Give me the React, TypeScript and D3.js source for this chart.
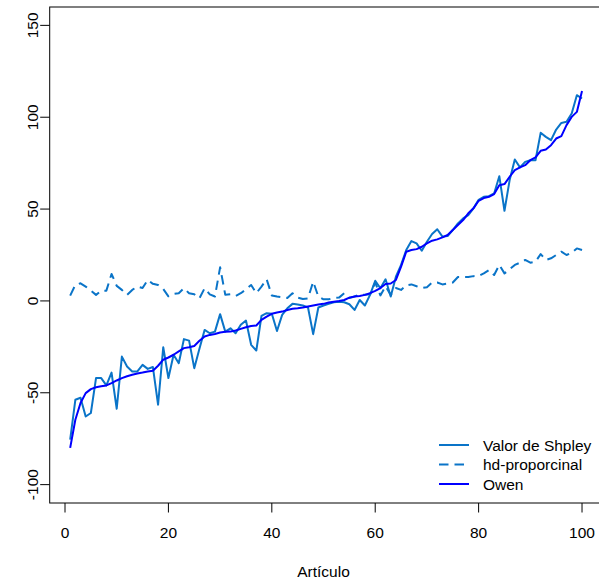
import { useMemo } from 'react';
import * as d3 from 'd3';

const W = 599;
const H = 582;

// values, article 1..100
const shapley = [
  -75.5, -53.8, -52.7, -62.9, -61, -42, -42, -46, -39, -58.7,
  -30.3, -35.7, -38.4, -38.4, -34.8, -37, -36, -56.5, -25.2, -42,
  -29.3, -33.9, -20.8, -21.6, -36.6, -26, -15.8, -17.6, -16.7, -7.2,
  -16.7, -14.9, -17.6, -13, -10.7, -23.9, -27, -8.2, -6.7, -7,
  -16.4, -7.6, -4, -1.6, -2, -2.5, -3.6, -18.1, -3.6, -2.5,
  -1.6, -0.7, -0.4, -0.7, -1.8, -4.9, 0.5, -2.5, 3.3, 11,
  6.9, 11.8, 2.4, 13.2, 19.6, 27.7, 32.6, 31.3, 27.3, 32.2,
  36.4, 39, 35, 35.3, 38.6, 42.2, 44.9, 46.7, 50.4, 55,
  56.7, 57, 58.5, 67.9, 49.1, 65.8, 77, 72.7, 75.7, 76.6,
  76.6, 91.5, 89.3, 87.5, 93.3, 96.9, 97.5, 102, 112, 110.2,
];

const hdProporcional = [
  2.9, 8.7, 9.6, 7.8, 5.6, 3.3, 5.6, 5.6, 14.7, 8.2,
  6, 3.3, 6, 7.8, 7, 11.4, 9.3, 8.7, 6.5, 2.5,
  3.8, 4.2, 6.9, 4.2, 3.6, 1.4, 6.9, 3.6, 2.4, 18.3,
  3.3, 3.6, 2.7, 4.2, 6.3, 8.7, 4.2, 7.8, 11.8, 3,
  2.4, 2, 1.6, 4.2, 1.8, 1.1, 1.4, 10.5, 2.4, 0.9,
  0.9, 1.6, 1.8, 4.2, 1.6, 2.4, 3.6, 3.3, 3.6, 10,
  3, 8, 3.3, 7, 6, 8.5, 9, 8, 7, 7.5,
  10, 10, 9, 9.5, 10, 13, 13, 13, 13.5, 13.6,
  15, 16.8, 14.1, 19.6, 15, 17.2, 19.6, 20.8, 22.3, 20.8,
  21.4, 25.5, 22.3, 23.2, 25, 26.8, 25, 26.2, 28.6, 27.7,
];

const owen = [
  -80, -64.7, -55.6, -50.2, -48, -47, -46.5, -46, -44.7, -43.3,
  -42, -41, -40.2, -39.5, -39, -38.4, -38, -35.3, -32, -30.8,
  -29.3, -27.5, -25.7, -25.2, -24.5, -21.7, -19.4, -18.5, -18, -17.2,
  -16.8, -16.7, -16.1, -15.2, -14.3, -13.6, -13.4, -10.3, -8.5, -7,
  -6.3, -5.8, -4.9, -4.3, -4, -3.6, -3, -2.5, -2, -1.6,
  -0.9, -0.4, 0, 0.5, 1.8, 2.4, 2.7, 3.3, 4.2, 5.5,
  7, 9.2, 9.5, 11.4, 18.7, 26.8, 27.7, 28.2, 29.5, 31.3,
  32.8, 33.5, 34.6, 35.9, 38.6, 41.3, 44, 47.7, 50.4, 54.5,
  56, 56.7, 58.2, 63, 63.6, 67.6, 71.2, 72.7, 73.9, 76.6,
  78.1, 81.7, 82.4, 84.8, 88.4, 89.7, 95.7, 100.2, 102.9, 114.3,
];

const xTicks = [0, 20, 40, 60, 80, 100];
const yTicks = [-100, -50, 0, 50, 100, 150];
const legendLabels = ['Valor de Shpley', 'hd-proporcinal', 'Owen'];

const FONT = 'Liberation Sans, Arial, Helvetica, sans-serif';
const LIGHT = '#0a74c8';
const DARK = '#0000FF';
const DASH = '9.5,6';

export default function App() {
  const left = 49.7;
  const right = 602.5;
  const top = 7;
  const bottom = 503;

  const x = useMemo(() => d3.scaleLinear().domain([-2.96, 103.96]).range([left, right]), []);
  const y = useMemo(() => d3.scaleLinear().domain([-110, 160]).range([bottom, top]), []);

  const line = d3
    .line<number>()
    .x((_, i) => x(i + 1))
    .y((d) => y(d));

  const series = [
    { label: legendLabels[0], values: shapley, color: LIGHT, dash: undefined },
    { label: legendLabels[1], values: hdProporcional, color: LIGHT, dash: DASH },
    { label: legendLabels[2], values: owen, color: DARK, dash: undefined },
  ];

  return (
    <svg
      width={W}
      height={H}
      style={{ position: 'absolute', left: 0, top: 0, background: '#fff' }}
      fontFamily={FONT}
    >
      <defs>
        <clipPath id="plot">
          <rect x={left} y={top} width={right - left} height={bottom - top} />
        </clipPath>
      </defs>

      <g clipPath="url(#plot)">
        {series.map((s) => (
          <path
            key={s.label}
            d={line(s.values) ?? ''}
            fill="none"
            stroke={s.color}
            strokeWidth={2}
            strokeDasharray={s.dash}
            strokeLinejoin="round"
          />
        ))}
      </g>

      {/* box */}
      <rect x={left} y={top} width={right - left} height={bottom - top} fill="none" stroke="#000" strokeWidth={1} />

      {/* x axis */}
      {xTicks.map((t) => (
        <g key={t}>
          <line x1={x(t)} x2={x(t)} y1={bottom} y2={bottom + 9.5} stroke="#000" />
          <text x={x(t)} y={538} textAnchor="middle" fontSize={15.5}>
            {t}
          </text>
        </g>
      ))}
      <text x={(x(0) + x(100)) / 2} y={577} textAnchor="middle" fontSize={15.5}>
        Artículo
      </text>

      {/* y axis */}
      {yTicks.map((t) => (
        <g key={t}>
          <line x1={left - 9.5} x2={left} y1={y(t)} y2={y(t)} stroke="#000" />
          <text
            transform={`translate(38,${y(t)}) rotate(-90)`}
            textAnchor="middle"
            fontSize={15.5}
          >
            {t}
          </text>
        </g>
      ))}

      {/* legend */}
      {series.map((s, i) => {
        const ly = 445 + i * 19.5;
        return (
          <g key={s.label}>
            <line x1={439} x2={469} y1={ly} y2={ly} stroke={s.color} strokeWidth={2} strokeDasharray={s.dash} />
            <text x={483} y={ly + 5.5} fontSize={15.5}>
              {s.label}
            </text>
          </g>
        );
      })}
    </svg>
  );
}
